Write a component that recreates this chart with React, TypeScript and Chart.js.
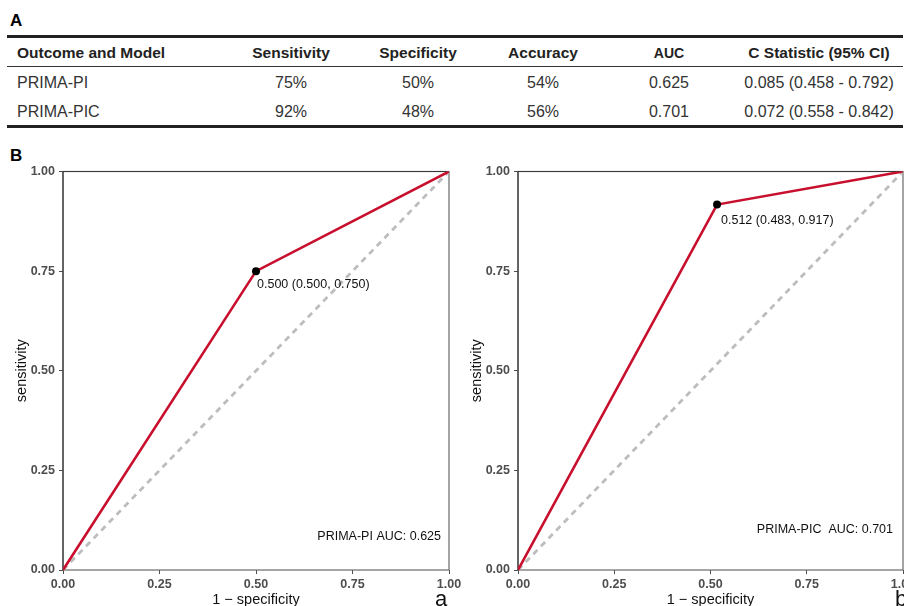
import React, { useEffect, useRef } from "react";
import { Chart, registerables } from "chart.js";

Chart.register(...registerables);

// ---------- Table data (panel A) ----------
const tableHeaders = ["Outcome and Model", "Sensitivity", "Specificity", "Accuracy", "AUC", "C Statistic (95% CI)"];
const models = ["PRIMA-PI", "PRIMA-PIC"];
const sensitivity = ["75%", "92%"];
const specificity = ["50%", "48%"];
const accuracy = ["54%", "56%"];
const aucValues = ["0.625", "0.701"];
const cStatistic = ["0.085 (0.458 - 0.792)", "0.072 (0.558 - 0.842)"];

// ---------- ROC data (panel B) ----------
const rocFprA = [0, 0.5, 1];
const rocTprA = [0, 0.75, 1];
const rocFprB = [0, 0.517, 1];
const rocTprB = [0, 0.917, 1];
const diagonal = [0, 1];
const cutoffIndex = 1;
const cutoffLabelA = "0.500 (0.500, 0.750)";
const cutoffLabelB = "0.512 (0.483, 0.917)";
const aucLabelA = "PRIMA-PI AUC: 0.625";
const aucLabelB = "PRIMA-PIC  AUC: 0.701";
const axisTicks = [0, 0.25, 0.5, 0.75, 1];

const FONT = "Arial, 'Liberation Sans', Helvetica, sans-serif";
const RED = "#c8102e";
const AXIS = "#4d4d4d";

const annotPlugin = {
  id: "annot",
  beforeDatasetsDraw(chart: any) {
    const { ctx, chartArea: ca } = chart;
    ctx.save();
    ctx.strokeStyle = "#6a6a6a";
    ctx.lineWidth = 1.2;
    ctx.strokeRect(ca.left, ca.top, ca.right - ca.left, ca.bottom - ca.top);
    ctx.strokeStyle = "#3a3a3a";
    ctx.beginPath();
    ctx.moveTo(ca.left, ca.bottom);
    ctx.lineTo(ca.left, ca.top);
    ctx.lineTo(ca.right, ca.top);
    ctx.stroke();
    ctx.restore();
  },
  afterDatasetsDraw(chart: any, _args: any, opts: any) {
    const { ctx, chartArea: ca, scales } = chart;
    ctx.save();
    ctx.font = `12.5px ${FONT}`;
    ctx.fillStyle = "#111";
    ctx.textBaseline = "middle";
    ctx.textAlign = "left";
    const px = scales.x.getPixelForValue(opts.px);
    const py = scales.y.getPixelForValue(opts.py);
    ctx.fillText(opts.pointLabel, px + opts.dx, py + opts.dy);
    ctx.textAlign = "right";
    ctx.fillText(opts.auc, ca.right - opts.aucDx, ca.bottom - opts.aucDy);
    ctx.restore();
  },
};

type RocProps = {
  fpr: number[];
  tpr: number[];
  pointLabel: string;
  aucLabel: string;
  left: number;
  width: number;
  yAxisWidth: number;
  padRight: number;
  titlePad: number;
  dx: number;
  dy: number;
  aucDx: number;
  aucDy: number;
};

function RocChart(p: RocProps) {
  const ref = useRef<HTMLCanvasElement | null>(null);
  useEffect(() => {
    if (!ref.current) return;
    const tickFont = { family: FONT, size: 12.5, weight: "bold" as const };
    const titleFont = { family: FONT, size: 14.5 };
    const chart = new Chart(ref.current, {
      type: "line",
      data: {
        datasets: [
          {
            data: diagonal.map((v) => ({ x: v, y: v })),
            borderColor: "#bdbdbd",
            borderWidth: 2.8,
            borderDash: [6, 5],
            pointRadius: 0,
            order: 2,
          },
          {
            data: p.fpr.map((x, i) => ({ x, y: p.tpr[i] })),
            borderColor: RED,
            borderWidth: 2.6,
            pointRadius: (c: any) => (c.dataIndex === cutoffIndex ? 4 : 0),
            pointBackgroundColor: "#000",
            pointBorderColor: "#000",
            pointBorderWidth: 0,
            order: 1,
          },
        ],
      },
      options: {
        animation: false,
        responsive: false,
        maintainAspectRatio: false,
        layout: { padding: { top: 11, right: p.padRight, left: 0, bottom: 0 } },
        plugins: {
          legend: { display: false },
          tooltip: { enabled: false },
          annot: {
            px: p.fpr[cutoffIndex],
            py: p.tpr[cutoffIndex],
            pointLabel: p.pointLabel,
            dx: p.dx,
            dy: p.dy,
            auc: p.aucLabel,
            aucDx: p.aucDx,
            aucDy: p.aucDy,
          },
        } as any,
        scales: {
          x: {
            type: "linear",
            min: 0,
            max: 1,
            afterBuildTicks: (s: any) => {
              s.ticks = axisTicks.map((v) => ({ value: v }));
            },
            afterFit: (s: any) => {
              s.height = 42;
            },
            ticks: {
              font: tickFont,
              color: AXIS,
              padding: 3,
              maxRotation: 0,
              callback: (v: any) => Number(v).toFixed(2),
            },
            grid: { display: true, drawOnChartArea: false, drawTicks: true, tickLength: 4, color: AXIS },
            border: { display: false },
            title: { display: true, text: "1 \u2212 specificity", font: titleFont, color: "#111", padding: { top: 0, bottom: 3 } },
          },
          y: {
            type: "linear",
            min: 0,
            max: 1,
            afterBuildTicks: (s: any) => {
              s.ticks = axisTicks.map((v) => ({ value: v }));
            },
            afterFit: (s: any) => {
              s.width = p.yAxisWidth;
            },
            ticks: {
              font: tickFont,
              color: AXIS,
              padding: 4,
              callback: (v: any) => Number(v).toFixed(2),
            },
            grid: { display: true, drawOnChartArea: false, drawTicks: true, tickLength: 4, color: AXIS },
            border: { display: false },
            title: { display: true, text: "sensitivity", font: titleFont, color: "#111", padding: { top: p.titlePad, bottom: 0 } },
          },
        },
      },
      plugins: [annotPlugin as any],
    });
    return () => chart.destroy();
  }, []);
  return (
    <canvas
      ref={ref}
      width={p.width}
      height={452}
      style={{ position: "absolute", left: p.left, top: 160, width: p.width, height: 452 }}
    />
  );
}

const colCenters = [0, 291, 418, 543, 669, 819];

export default function App() {
  const rows = models.map((m, i) => [m, sensitivity[i], specificity[i], accuracy[i], aucValues[i], cStatistic[i]]);
  const rowY = [83, 112];
  const cell = (text: string, ci: number, y: number, header: boolean, key: string) => {
    const style: React.CSSProperties = {
      position: "absolute",
      top: y - 10,
      height: 20,
      lineHeight: "20px",
      whiteSpace: "nowrap",
      fontFamily: FONT,
      fontSize: header ? (ci === 4 ? 14 : 15.5) : 16,
      fontWeight: header ? "bold" : "normal",
      color: header ? "#222" : "#333",
    };
    if (ci === 0) {
      style.left = 17;
    } else {
      style.left = colCenters[ci] - 150;
      style.width = 300;
      style.textAlign = "center";
    }
    return (
      <div key={key} style={style}>
        {text}
      </div>
    );
  };
  return (
    <div
      style={{
        position: "absolute",
        left: 0,
        top: 0,
        width: 904,
        height: 606,
        overflow: "hidden",
        background: "#fff",
        fontFamily: FONT,
      }}
    >
      <div style={{ position: "absolute", left: 10, top: 11, fontSize: 17, fontWeight: "bold", lineHeight: "20px" }}>A</div>
      <div style={{ position: "absolute", left: 7, top: 35, width: 896, height: 3, background: "#222" }} />
      <div style={{ position: "absolute", left: 7, top: 66, width: 896, height: 1, background: "#333" }} />
      <div style={{ position: "absolute", left: 7, top: 125, width: 896, height: 3, background: "#222" }} />
      {tableHeaders.map((h, ci) => cell(h, ci, 53, true, "h" + ci))}
      {rows.map((r, ri) => r.map((t, ci) => cell(t, ci, rowY[ri], false, `r${ri}c${ci}`)))}
      <div style={{ position: "absolute", left: 10, top: 146, fontSize: 17, fontWeight: "bold", lineHeight: "20px" }}>B</div>

      <RocChart
        fpr={rocFprA}
        tpr={rocTprA}
        pointLabel={cutoffLabelA}
        aucLabel={aucLabelA}
        left={0}
        width={470}
        yAxisWidth={63}
        padRight={21}
        titlePad={13.6}
        dx={1}
        dy={13}
        aucDx={8}
        aucDy={33}
      />
      <RocChart
        fpr={rocFprB}
        tpr={rocTprB}
        pointLabel={cutoffLabelB}
        aucLabel={aucLabelB}
        left={452}
        width={480}
        yAxisWidth={66}
        padRight={29}
        titlePad={16.6}
        dx={4}
        dy={16}
        aucDx={10}
        aucDy={40}
      />
      <div style={{ position: "absolute", left: 431, top: 586, width: 20, textAlign: "center", fontSize: 22, lineHeight: "26px", color: "#111" }}>a</div>
      <div style={{ position: "absolute", left: 891, top: 586, width: 20, textAlign: "center", fontSize: 22, lineHeight: "26px", color: "#111" }}>b</div>
    </div>
  );
}
